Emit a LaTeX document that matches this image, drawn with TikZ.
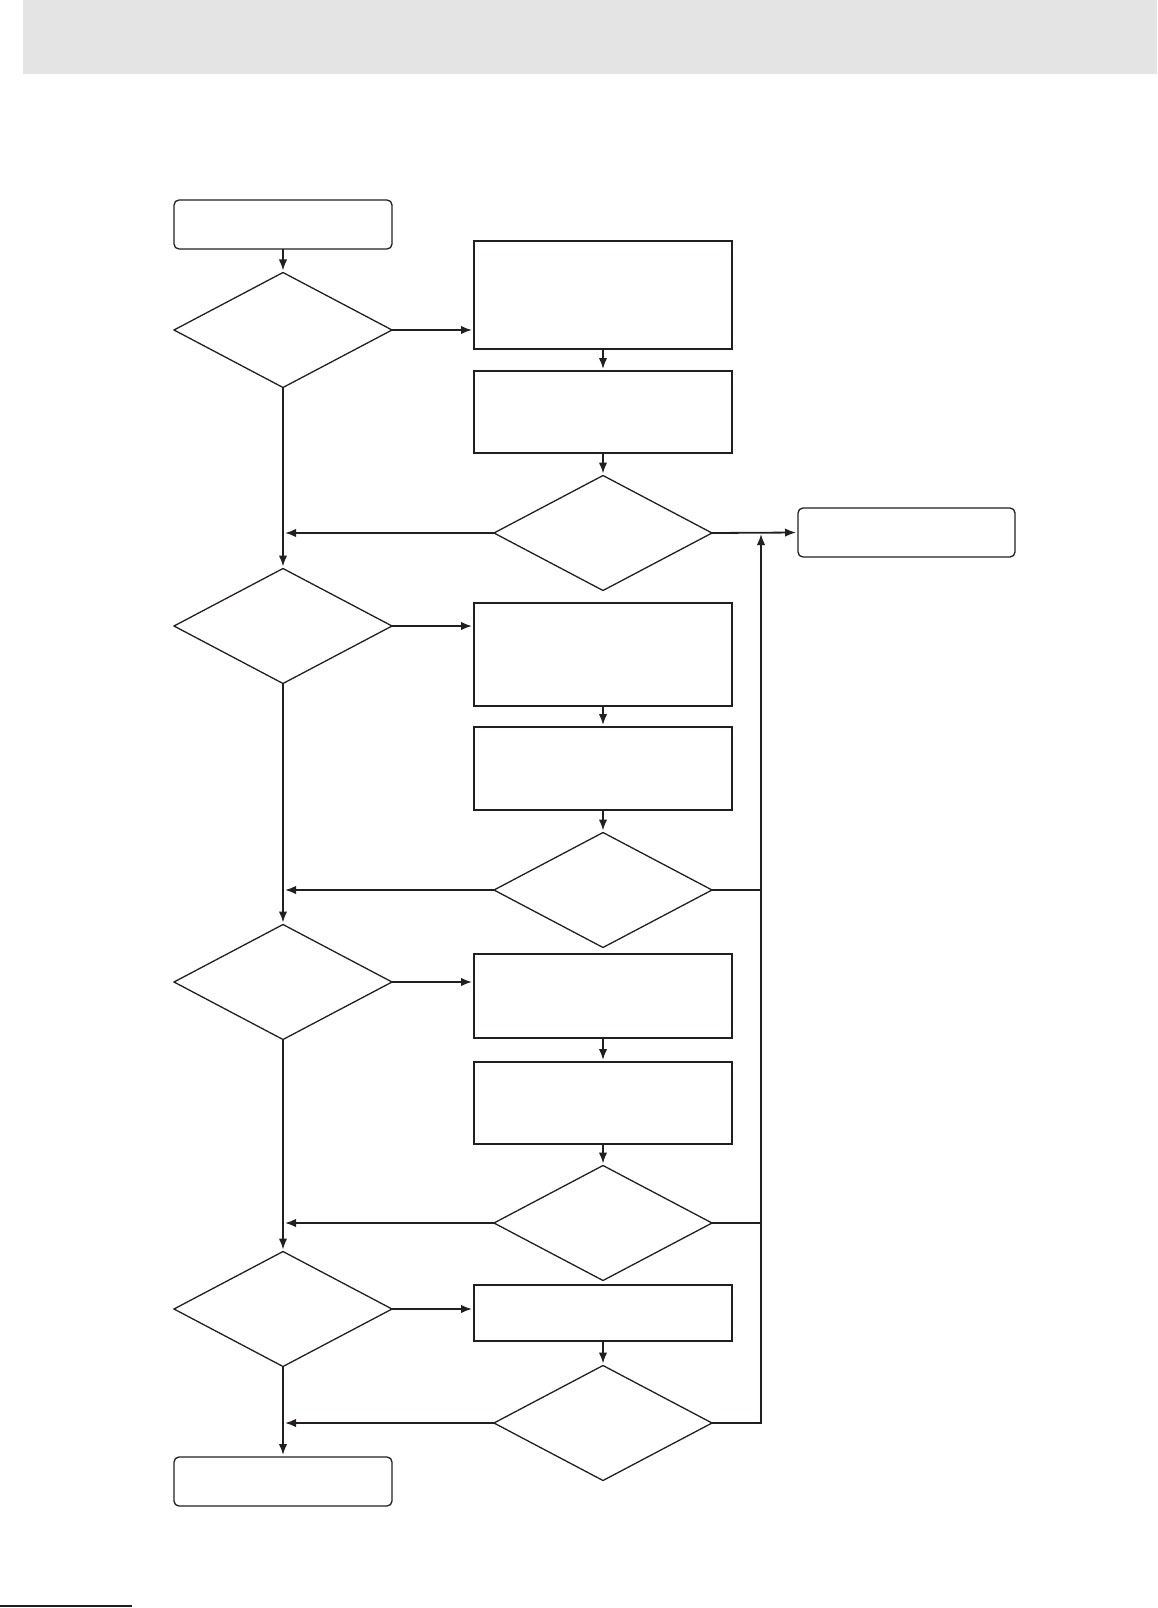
\documentclass[tikz,border=0pt]{standalone}
\usetikzlibrary{shapes.geometric,arrows.meta}
\definecolor{ink}{HTML}{231F20}
\definecolor{band}{HTML}{E4E4E4}
\begin{document}
\begin{tikzpicture}[x=1pt, y=-1pt,
  every node/.style={outer sep=0pt, inner sep=0pt},
  term/.style={draw=ink, line width=1.3pt, rounded corners=5pt, minimum width=218pt, minimum height=49pt},
  proc/.style={draw=ink, line width=2pt, minimum width=258pt},
  cond/.style={draw=ink, line width=1.3pt, diamond, minimum width=218pt, minimum height=115pt},
  link/.style={draw=ink, line width=1.8pt},
  go/.style={link, ->, shorten >=2pt},
  >={Latex[length=11pt,width=8.5pt]}]
\useasboundingbox (0,0) rectangle (1157,1608);
\fill[band] (23,0) rectangle (1157,74);
\draw[ink, line width=2.5pt] (0,1606) -- (132,1606);
% left column
\node[term] (start) at (283,224.5) {};
\node[cond] (q1) at (283,330) {};
\node[cond] (q3) at (283,626) {};
\node[cond] (q5) at (283,982) {};
\node[cond] (q7) at (283,1309) {};
\node[term] (stop) at (283,1481.5) {};
% middle column
\node[proc, minimum height=108pt] (p1) at (603,295) {};
\node[proc, minimum height=82pt] (p2) at (603,412) {};
\node[cond] (q2) at (603,533) {};
\node[proc, minimum height=103pt] (p3) at (603,654.5) {};
\node[proc, minimum height=83pt] (p4) at (603,768.5) {};
\node[cond] (q4) at (603,890) {};
\node[proc, minimum height=84pt] (p5) at (603,996) {};
\node[proc, minimum height=82pt] (p6) at (603,1103) {};
\node[cond] (q6) at (603,1223) {};
\node[proc, minimum height=56pt] (p7) at (603,1313) {};
\node[cond] (q8) at (603,1423) {};
% right
\node[term, minimum width=217pt] (fail) at (906.5,532.5) {};
\coordinate (rail) at (761,533);
% main line
\draw[go] (start) -- (q1);
\draw[go] (q1) -- (q3);
\draw[go] (q3) -- (q5);
\draw[go] (q5) -- (q7);
\draw[go] (q7) -- (stop);
% branches
\draw[go] (q1.east) -- (q1.east -| p1.west);
\draw[go] (q3.east) -- (q3.east -| p3.west);
\draw[go] (q5.east) -- (q5.east -| p5.west);
\draw[go] (q7.east) -- (q7.east -| p7.west);
\draw[go] (p1) -- (p2);
\draw[go] (p2) -- (q2);
\draw[go] (p3) -- (p4);
\draw[go] (p4) -- (q4);
\draw[go] (p5) -- (p6);
\draw[go] (p6) -- (q6);
\draw[go] (p7) -- (q8);
% back to main line
\draw[go] (q2.west) -- (q2.west -| q1.south);
\draw[go] (q4.west) -- (q4.west -| q1.south);
\draw[go] (q6.west) -- (q6.west -| q1.south);
\draw[go] (q8.west) -- (q8.west -| q1.south);
% to failure box
\draw[go] (q2.east) -- (fail.west);
\draw[link] (q4.east) -- (q4.east -| rail);
\draw[link] (q6.east) -- (q6.east -| rail);
\draw[go, shorten >=1pt] (q8.east) -- (q8.east -| rail) -- (rail);
\end{tikzpicture}
\end{document}
